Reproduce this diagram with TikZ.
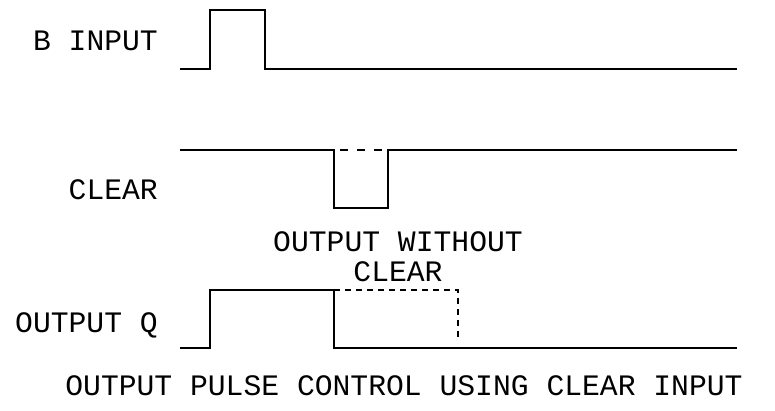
\documentclass[tikz,border=0pt]{standalone}
\usepackage{fontspec}
\setmonofont{Liberation Mono}
\usetikzlibrary{positioning}
\tikzstyle{signal}=[line width=1.1pt,line join=miter]
\tikzstyle{ghost}=[line width=1.1pt,dash pattern=on 6pt off 5pt]
\tikzstyle{clrghost}=[line width=1.1pt,dash pattern=on 8pt off 9pt,dash phase=11pt]
\tikzstyle{sigtext}=[font=\ttfamily\fontsize{29.7}{34}\selectfont,inner sep=0pt]

\begin{document}
\begin{tikzpicture}[x=1pt,y=-1pt]
\useasboundingbox (0,0) rectangle (775,411);
\begin{scope}
    \node [sigtext,anchor=base east] (binput) at (158,51) {B INPUT};
    \node [sigtext,anchor=base east] (clear) at (158,200) {CLEAR};
    \node [sigtext,anchor=base east] (outq) at (158,332) {OUTPUT Q};
    \node [sigtext,anchor=base] (without) at (398,252) {OUTPUT WITHOUT};
    \node [sigtext,anchor=base] (withoutclr) at (398,281) {CLEAR};
    \node [sigtext,anchor=base] (caption) at (404,395) {OUTPUT PULSE CONTROL USING CLEAR INPUT};
\end{scope}
% B input
\draw [signal] (180,69) -- (210,69) -- (210,10) -- (265,10) -- (265,69) -- (737,69);
% clear
\draw [signal] (180,150) -- (334,150) -- (334,208) -- (388,208) -- (388,150) -- (737,150);
\draw [clrghost] (334,150) -- (388,150);
% output Q
\draw [signal] (180,348) -- (210,348) -- (210,290) -- (334,290) -- (334,348) -- (737,348);
\draw [ghost] (334,290) -- (458,290) -- (458,341);
\end{tikzpicture}
\end{document}
